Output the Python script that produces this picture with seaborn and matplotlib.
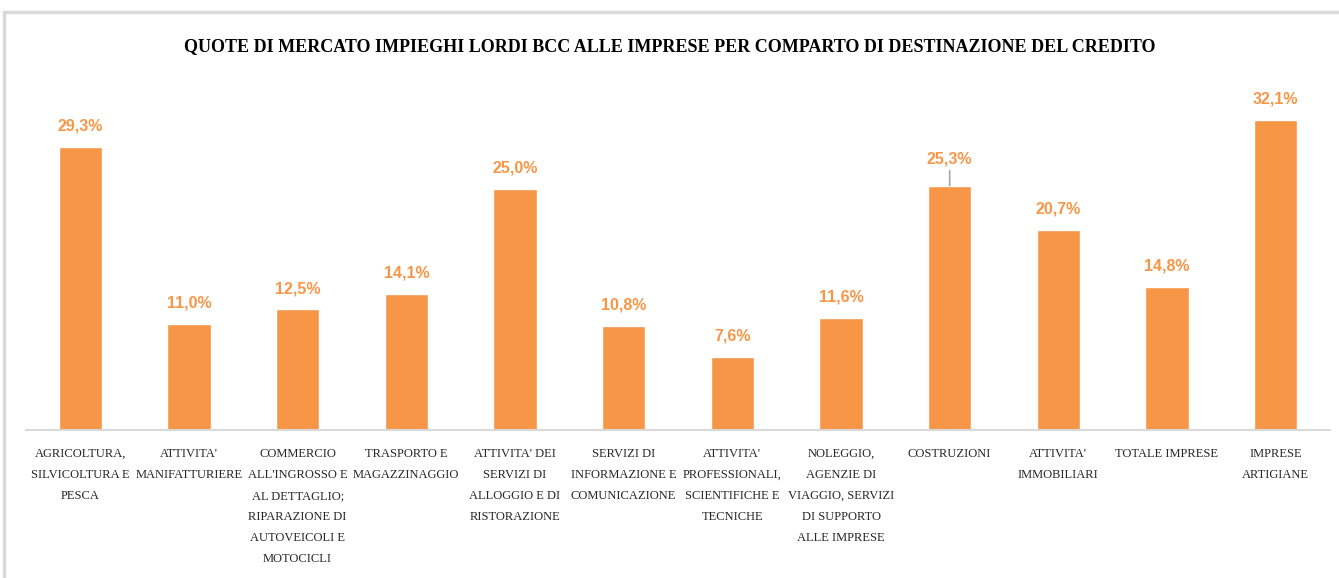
import matplotlib
matplotlib.use("Agg")
import matplotlib.pyplot as plt
import seaborn as sns
import pandas as pd
from matplotlib.patches import Rectangle

# dati
comparti = [
    "AGRICOLTURA,\nSILVICOLTURA E\nPESCA",
    "ATTIVITA'\nMANIFATTURIERE",
    "COMMERCIO\nALL'INGROSSO E\nAL DETTAGLIO;\nRIPARAZIONE DI\nAUTOVEICOLI E\nMOTOCICLI",
    "TRASPORTO E\nMAGAZZINAGGIO",
    "ATTIVITA' DEI\nSERVIZI DI\nALLOGGIO E DI\nRISTORAZIONE",
    "SERVIZI DI\nINFORMAZIONE E\nCOMUNICAZIONE",
    "ATTIVITA'\nPROFESSIONALI,\nSCIENTIFICHE E\nTECNICHE",
    "NOLEGGIO,\nAGENZIE DI\nVIAGGIO, SERVIZI\nDI SUPPORTO\nALLE IMPRESE",
    "COSTRUZIONI",
    "ATTIVITA'\nIMMOBILIARI",
    "TOTALE IMPRESE",
    "IMPRESE\nARTIGIANE",
]
quote = [29.3, 11.0, 12.5, 14.1, 25.0, 10.8, 7.6, 11.6, 25.3, 20.7, 14.8, 32.1]
titolo = "QUOTE DI MERCATO IMPIEGHI LORDI BCC ALLE IMPRESE PER COMPARTO DI DESTINAZIONE DEL CREDITO"

ARANCIO = "#F79646"

df = pd.DataFrame({"comparto": comparti, "quota": quote})

sns.set_style("white")
plt.rcParams["font.family"] = ["Liberation Serif", "DejaVu Serif"]

fig = plt.figure(figsize=(13.39, 5.78), dpi=100)
ax = fig.add_axes([26 / 1339, 1 - 430 / 578, (1330 - 26) / 1339, (430 - 92) / 578])

sns.barplot(data=df, x="comparto", y="quota", color=ARANCIO, saturation=1,
            width=0.4, ax=ax)

ax.set_ylim(0, 35)
ax.set_xlim(-0.5, len(comparti) - 0.5)
ax.set_xlabel("")
ax.set_ylabel("")
ax.set_yticks([])
for s in ["top", "left", "right"]:
    ax.spines[s].set_visible(False)
ax.spines["bottom"].set_color("#D9D9D9")
ax.spines["bottom"].set_linewidth(1.5)
ax.tick_params(axis="x", length=0, pad=13)
ax.set_xticks(range(len(comparti)))
ax.set_xticklabels(comparti, fontsize=9, va="top", linespacing=2.0,
                   color="#262626")

# etichette dei valori
for i, v in enumerate(quote):
    testo = f"{v:.1f}%".replace(".", ",")
    if comparti[i] == "COSTRUZIONI":
        ax.annotate(testo, xy=(i, v), xytext=(0, 14), textcoords="offset points",
                    ha="center", va="bottom", color=ARANCIO, fontsize=11.5,
                    fontweight="bold", family=["Liberation Sans Narrow", "Liberation Sans"],
                    arrowprops=dict(arrowstyle="-", color="#A6A6A6", lw=1.2,
                                    shrinkA=1, shrinkB=0))
    else:
        ax.annotate(testo, xy=(i, v), xytext=(0, 9.5), textcoords="offset points",
                    ha="center", va="bottom", color=ARANCIO, fontsize=11.5,
                    fontweight="bold", family=["Liberation Sans Narrow", "Liberation Sans"])

fig.text(0.5, 1 - 47 / 578, titolo, ha="center", va="center",
         fontsize=13, fontweight="bold", color="black")

# bordo dell'area del grafico
fig.patches.append(Rectangle((4 / 1339, -0.1), 1.2, 1 - 12 / 578 + 0.1,
                             transform=fig.transFigure, fill=False,
                             edgecolor="#D9D9D9", lw=2.5))

fig.savefig("out.png", dpi=100)
